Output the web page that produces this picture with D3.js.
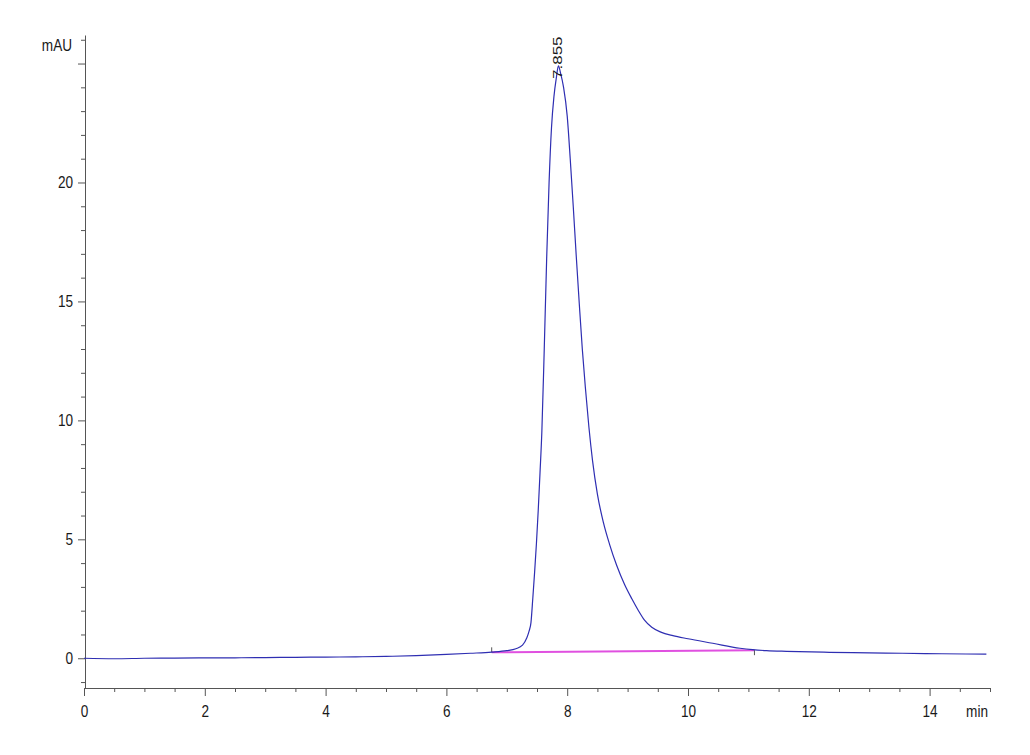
<!DOCTYPE html>
<html>
<head>
<meta charset="utf-8">
<script src="https://cdn.jsdelivr.net/npm/d3@7"></script>
<style>
  html, body { margin: 0; padding: 0; background: #fff; }
  svg { display: block; }
  text { font-family: "Liberation Sans", Arial, sans-serif; fill: #1a1a1a; }
</style>
</head>
<body>
<svg id="chart" width="1030" height="755"></svg>
<script>
// ---- data ----
const timeMin = [0, 0.5, 1, 1.5, 2, 2.5, 3, 3.5, 4, 4.5, 5, 5.5, 6, 6.4, 6.75, 7.0, 7.15, 7.26, 7.33, 7.37,
  7.40, 7.43, 7.46, 7.49, 7.52, 7.55, 7.58, 7.62, 7.66, 7.70, 7.74, 7.78, 7.82, 7.855, 7.89, 7.94,
  8.00, 8.05, 8.10, 8.15, 8.20, 8.25, 8.30, 8.36, 8.42, 8.50, 8.60, 8.70, 8.82, 8.95, 9.07, 9.18,
  9.28, 9.40, 9.55, 9.75, 10.0, 10.41, 10.86, 11.07, 11.3, 11.63, 12.34, 13.0, 13.55, 14.2, 14.94];
const absorbance = [0.0, -0.02, 0.0, 0.01, 0.02, 0.02, 0.03, 0.04, 0.05, 0.06, 0.08, 0.11, 0.16, 0.21, 0.26, 0.32, 0.40, 0.55, 0.85, 1.15,
  1.5, 2.5, 3.6, 4.8, 6.2, 7.8, 9.5, 13.0, 16.8, 20.0, 22.3, 23.6, 24.4, 24.9, 24.6, 24.0,
  22.8, 21.0, 19.0, 16.9, 14.9, 13.0, 11.4, 9.7, 8.3, 6.9, 5.7, 4.8, 3.9, 3.1, 2.5, 2.0,
  1.6, 1.3, 1.1, 0.95, 0.82, 0.63, 0.42, 0.36, 0.32, 0.29, 0.25, 0.23, 0.21, 0.19, 0.17];
const baselineTime = [6.75, 11.1];
const baselineValue = [0.25, 0.34];
const peakTime = 7.855;
const peakValue = 24.9;
const peakLabel = "7.855";
const xMajorTicks = [0, 2, 4, 6, 8, 10, 12, 14];
const yMajorTicks = [0, 5, 10, 15, 20, 25];
const yLabelledTicks = [0, 5, 10, 15, 20];
const xUnit = "min";
const yUnit = "mAU";

// ---- layout ----
const svg = d3.select("#chart");
const x = d3.scaleLinear().domain([0, 15]).range([84, 990]);
const y = d3.scaleLinear().domain([-1.25, 26.2]).range([688, 35]);
const axisColor = "#555";
const SX = 0.8; // horizontal squeeze of tick text

// minor ticks
const xMinor = d3.range(0, 15.01, 0.5).filter(v => !xMajorTicks.includes(v));
const yMinor = d3.range(-1, 26.01, 1).filter(v => !yMajorTicks.includes(v));

const gx = svg.append("g").attr("transform", `translate(0,${y.range()[0]})`);
gx.call(d3.axisBottom(x).tickValues(xMinor).tickSize(4).tickSizeOuter(0).tickFormat(""));
gx.append("g").call(d3.axisBottom(x).tickValues(xMajorTicks).tickSize(8).tickSizeOuter(0).tickFormat(d3.format("d")))
  .call(g => g.select(".domain").remove());
gx.selectAll("path, line").attr("stroke", axisColor);
gx.selectAll("text").attr("font-size", 17).attr("y", 17).attr("fill", "#1a1a1a")
  .style("font-family", '"Liberation Sans", Arial, sans-serif')
  .attr("transform", `scale(${SX},1)`);

const gy = svg.append("g").attr("transform", `translate(85,0)`);
gy.call(d3.axisLeft(y).tickValues(yMinor).tickSize(4).tickSizeOuter(0).tickFormat(""));
gy.append("g").call(d3.axisLeft(y).tickValues(yMajorTicks).tickSize(7).tickSizeOuter(0)
    .tickFormat(d => yLabelledTicks.includes(d) ? d3.format("d")(d) : ""))
  .call(g => g.select(".domain").remove());
gy.selectAll("path, line").attr("stroke", axisColor);
gy.selectAll("text").attr("font-size", 17).attr("x", -12 / SX).attr("fill", "#1a1a1a")
  .style("font-family", '"Liberation Sans", Arial, sans-serif')
  .attr("transform", `scale(${SX},1)`);

// unit labels
svg.append("text").attr("transform", `translate(988,717) scale(${SX},1)`)
  .attr("text-anchor", "end").attr("font-size", 17).text(xUnit);
svg.append("text").attr("transform", `translate(72,51) scale(${SX},1)`)
  .attr("text-anchor", "end").attr("font-size", 17).text(yUnit);

// integration baseline
const bl = baselineTime.map((t, i) => [t, baselineValue[i]]);
svg.append("path")
  .attr("d", d3.line().x(d => x(d[0])).y(d => y(d[1]))(bl))
  .attr("stroke", "#e050e0").attr("stroke-width", 2).attr("fill", "none");
svg.append("line").attr("x1", x(bl[0][0])).attr("x2", x(bl[0][0]))
  .attr("y1", y(bl[0][1]) - 5).attr("y2", y(bl[0][1])).attr("stroke", "#555");
svg.append("line").attr("x1", x(bl[1][0])).attr("x2", x(bl[1][0]))
  .attr("y1", y(bl[1][1])).attr("y2", y(bl[1][1]) + 5).attr("stroke", "#555");

// signal
const pts = timeMin.map((t, i) => [t, absorbance[i]]);
svg.append("path")
  .attr("d", d3.line().x(d => x(d[0])).y(d => y(d[1])).curve(d3.curveMonotoneX)(pts))
  .attr("stroke", "#2e2eb2").attr("stroke-width", 1.2).attr("fill", "none");

// peak label
svg.append("text")
  .attr("transform", `translate(${x(peakTime) + 4},${y(peakValue) + 13}) rotate(-90) scale(1,0.8)`)
  .attr("font-size", 17).attr("text-anchor", "start").text(peakLabel);
</script>
</body>
</html>
